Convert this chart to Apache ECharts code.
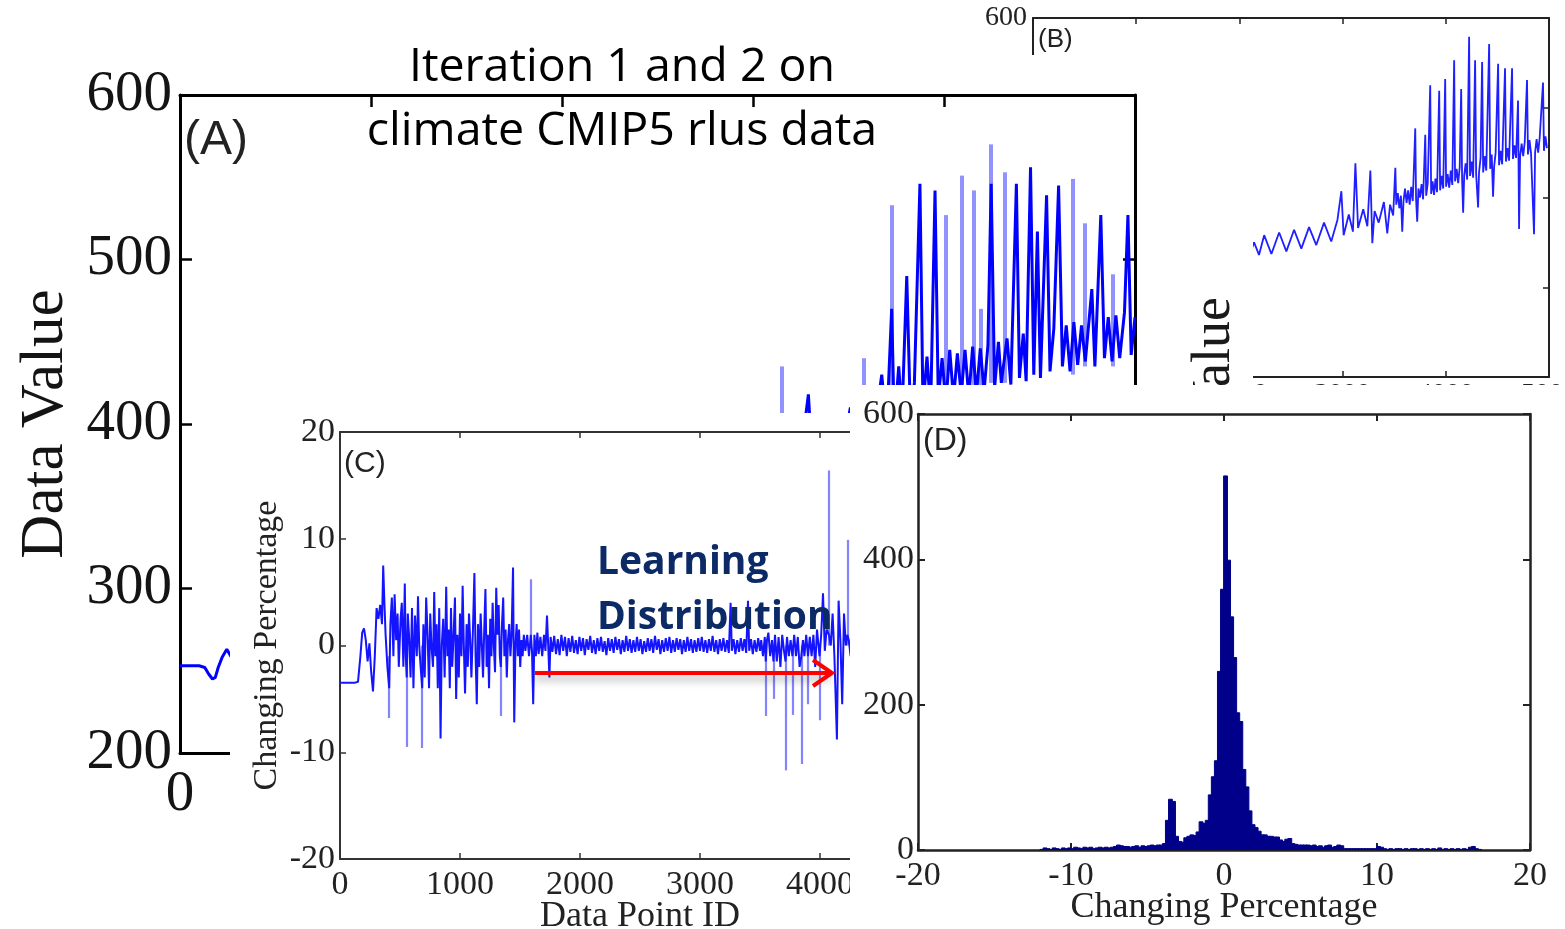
<!DOCTYPE html>
<html><head><meta charset="utf-8">
<script src="https://cdn.jsdelivr.net/npm/echarts@6/dist/echarts.min.js"></script>
<style>
html,body{margin:0;padding:0;width:1565px;height:929px;overflow:hidden;background:#fff;}
.p{position:absolute;overflow:hidden;}
</style></head><body>
<div id="pB" class="p" style="left:970px;top:0;width:595px;height:385px;z-index:1;background:#fff"></div>
<div id="pA" class="p" style="left:0;top:55px;width:1145px;height:874px;z-index:2;background:#fff"></div>
<div id="pC" class="p" style="left:230px;top:413px;width:720px;height:516px;z-index:3;background:#fff"></div>
<div id="pD" class="p" style="left:850px;top:385px;width:715px;height:544px;z-index:4;background:#fff"></div>
<div id="pT" class="p" style="left:0;top:0;width:1565px;height:929px;z-index:5;pointer-events:none"></div>
<script>
// ---------------- DATA ----------------
// Panel A: data value vs data point ID (dark line) [x, value]
const panelA_line = [
 [0,253],[50,253],[100,253],[130,252],[150,248],[170,245],[185,246],[200,252],[220,258],[245,263],[270,258],[300,266],[340,255],[380,270],[420,257],[460,272],[500,258],[560,275],[620,262],[680,280],[740,265],[800,283],[860,268],[920,288],[980,272],[1040,292],[1100,276],[1160,296],[1220,280],[1280,300],[1340,283],[1400,305],[1460,288],[1520,310],[1580,292],[1640,315],[1700,296],[1760,320],[1820,300],[1880,325],[1940,305],[1980,360],[2000,308],[2060,330],[2120,312],[2180,336],[2240,318],[2300,372],[2320,320],[2380,342],[2440,325],[2500,348],[2560,330],[2620,380],[2640,335],[2700,355],[2760,340],[2820,362],[2880,345],[2940,368],
 [3000,365],[3040,385],[3080,362],[3120,392],[3160,370],[3200,398],[3240,372],[3290,418],[3310,378],[3350,400],[3390,380],[3430,405],[3470,385],[3510,410],[3550,390],[3590,415],[3630,392],[3674,430],[3700,398],[3726,470],[3740,400],[3763,435],[3780,405],[3805,490],[3825,402],[3845,425],[3874,546],[3890,410],[3911,441],[3930,408],[3953,542],[3970,415],[3990,440],[4010,412],[4030,445],[4050,415],[4070,443],[4090,418],[4110,445],[4130,416],[4150,447],[4170,418],[4190,446],[4210,420],[4230,448],[4247,546],[4265,422],[4285,450],[4300,425],[4330,452],[4350,424],[4379,546],[4395,428],[4415,455],[4430,426],[4453,556],[4470,430],[4489,517],[4505,428],[4537,539],[4555,432],[4575,458],[4600,545],[4620,435],[4640,460],[4660,432],[4680,462],[4700,436],[4720,460],[4740,438],[4774,482],[4790,435],[4821,527],[4840,440],[4860,465],[4880,438],[4900,466],[4920,440],[4945,468],[4963,527],[4980,442],[5000,465]
];
// Panel A: lighter spikes [x, low, high]
const panelA_spikes = [
 [3153,370,435],[3579,400,440],[3726,420,533],[4011,420,527],[4095,420,551],[4158,420,542],[4195,420,470],[4247,425,570],[4316,425,553],[4674,430,549],[4737,435,522],[4884,435,491]
];
// Panel B: data value vs data point ID [x, value]
const panelB_line = [
 [0,270],[150,290],[300,275],[450,296],[600,282],[750,302],[900,288],[1050,310],[1200,295],[1350,318],[1500,302],[1650,326],[1800,310],[1950,334],[2050,320],
 [2142,350],[2190,336],[2240,358],[2310,337],[2385,361],[2455,340],[2530,364],[2600,343],[2675,367],[2745,347],[2820,372],[2890,351],[2950,375],[2988,407],[3010,358],[3060,381],[3100,362],[3124,438],[3150,366],[3200,387],[3240,368],[3269,430],[3288,349],[3310,385],[3350,372],[3400,395],[3433,360],[3460,392],[3490,380],
 [3511,433],[3520,392],[3535,405],[3550,388],[3565,402],[3578,362],[3590,396],[3605,410],[3620,394],[3635,408],[3650,392],[3665,412],[3680,396],[3704,477],[3712,398],[3723,373],[3735,410],[3750,400],[3765,415],[3780,398],[3801,470],[3810,402],[3825,416],[3849,525],[3858,404],[3872,418],[3886,403],[3900,421],[3915,406],[3936,519],[3945,408],[3960,424],[3975,410],[3994,532],[4003,412],[4018,426],[4033,411],[4048,430],[4063,414],[4081,553],[4090,418],[4105,432],[4120,416],[4135,434],[4149,521],[4158,420],[4168,383],[4178,424],[4192,438],[4207,420],[4226,579],[4235,424],[4250,440],[4265,422],[4284,553],[4294,426],[4313,389],[4322,428],[4337,444],[4352,551],[4362,428],[4377,446],[4392,430],[4420,571],[4430,432],[4445,448],[4458,401],[4468,434],[4483,450],[4507,549],[4516,436],[4531,452],[4546,437],[4574,544],[4583,440],[4598,455],[4613,441],[4642,544],[4651,443],[4666,458],[4681,444],[4700,508],[4710,365],[4720,446],[4735,460],[4750,446],[4765,462],[4787,531],[4796,448],[4811,464],[4826,449],[4855,359],[4865,450],[4880,465],[4895,450],[4910,467],[4942,528],[4951,452],[4966,468],[4980,455]
];
// Panel C: changing percentage vs data point ID [x, pct]
const panelC_line = [
 [0,-3.5],[60,-3.5],[120,-3.5],[150,-3.4],[170,-1],[185,1.2],[200,1.6],[215,0.5],[230,-1.5],[245,0.2],[260,-2.5],[275,-4.3],[290,-1],[305,3.5],[320,2.5],[335,3.8],[350,2],[360,7.5],[370,4],[380,1],[395,-2],[410,-4],[420,2],[432,4.5],[445,-1],[455,4.8],[468,0.5],[480,3],[490,-2],[505,2.5],[515,4],[528,-2],[540,5.8],[548,-1],[556,-3],[565,3],[575,1],[588,-3],[600,3.5],[612,-4],[625,2.8],[640,-1],[650,4.6],[660,0],[672,-2],[685,-4],[695,2],[706,-3],[718,4.5],[730,1],[742,-4],[752,3],[762,0],[775,-2],[785,5],[795,-1],[805,2],[815,-4],[827,3.5],[838,-8.7],[848,0],[860,2.5],[872,-3],[885,5.5],[895,-1],[905,1.5],[915,-4],[925,3.5],[935,-2],[945,0.5],[958,4.5],[968,-5],[978,1],[990,-3],[1000,3],[1012,-1],[1022,5.6],[1032,0],[1042,-4.5],[1055,2],[1065,-2],[1075,3],[1085,0.5],[1095,-3],[1108,1.5],[1120,6.8],[1130,-1],[1140,-5.5],[1150,2],[1160,-2],[1172,3],[1182,0],[1192,-3],[1202,1.5],[1212,5.3],[1222,-2],[1232,1],[1242,-4],[1252,2.5],[1262,-1],[1272,4],[1282,0],[1292,-2.5],[1302,5.4],[1312,1],[1322,3.8],[1332,-1],[1340,-2],[1350,2],[1360,4.5],[1370,-1],[1380,1.5],[1390,-3],[1400,0.5],[1410,2],[1420,-1],[1430,1],[1442,7.3],[1452,-7.2],[1462,0],[1472,2],[1482,-1],[1492,1.5],[1502,-2],[1512,0.5],[1522,-1],[1532,1],[1545,-0.5],[1560,1],[1575,-1],[1590,1],[1600,-0.5],[1610,-5.5],[1620,1],[1632,-1],[1645,1.2],[1655,-0.8],[1670,0.8],[1685,-1],[1700,1],[1712,-0.5],[1725,2.8],[1735,0],[1745,-3],[1755,0.8],
 [1770,-0.6],[1785,0.9],[1800,-0.8],[1815,0.6],[1830,-0.9],[1845,1],[1860,-0.5],[1875,0.8],[1890,-1],[1905,0.7],[1920,-0.6],[1935,0.9],[1950,-0.7],[1965,0.5],[1980,-0.8],[1995,0.8],[2010,-0.5],[2025,0.7],[2040,-0.9],[2055,0.6],[2070,-0.4],[2085,0.9],[2100,-0.7],[2115,0.5],[2130,-0.8],[2145,0.7],[2160,-0.5],[2175,0.8],[2190,-0.6],[2205,0.4],[2220,-0.9],[2235,0.7],[2250,-0.5],[2265,0.6],[2280,-0.7],[2295,0.8],[2310,-0.4],[2325,0.6],[2340,-0.8],[2355,0.5],[2370,-0.6],[2385,0.9],[2400,-0.5],[2415,0.6],[2430,-0.7],[2445,0.5],[2460,-0.6],[2475,0.8],[2490,-0.5],[2505,0.6],[2520,-0.8],[2535,0.4],[2550,-0.6],[2565,0.7],[2580,-0.5],[2595,0.6],[2610,-0.7],[2625,0.9],[2640,-0.4],[2655,0.6],[2670,-0.8],[2685,0.5],[2700,-0.6],[2715,0.7],[2730,-0.5],[2745,0.8],[2760,-0.7],[2775,0.5],[2790,-0.6],[2805,0.7],[2820,-0.4],[2835,0.6],[2850,-0.8],[2865,0.5],[2880,-0.6],[2895,0.8],[2910,-0.5],[2925,0.6],[2940,-0.7],[2955,0.5],[2970,-0.6],[2985,0.7],[3000,-0.5],[3015,0.8],[3030,-0.6],[3045,0.5],[3060,-0.7],[3075,0.6],[3090,-0.5],[3105,0.9],[3120,-0.6],[3135,0.5],[3150,-0.8],[3165,0.6],[3180,-0.5],[3195,0.7],[3210,-0.6],[3225,0.5],[3240,-0.7],[3255,4.0],[3265,-0.5],[3280,0.6],[3295,-0.8],[3310,0.5],[3325,-0.6],[3340,0.7],[3355,-0.5],[3370,0.6],[3385,-0.7],[3400,4.2],[3410,-0.5],[3425,0.6],[3440,-0.8],[3455,0.5],[3470,-0.6],[3485,0.7],[3500,-0.5],
 [3510,0.5],[3525,-1],[3540,0.8],[3548,-1.5],[3558,0.5],[3570,1.2],[3585,-1],[3600,0.5],[3612,-1.5],[3625,1],[3640,-1.5],[3655,0.8],[3670,-2],[3685,1],[3700,-0.5],[3713,-1.5],[3725,0.8],[3740,-1],[3755,0.5],[3770,-1],[3785,1],[3800,-1],[3815,0.8],[3830,-2],[3844,-1],[3858,0.5],[3870,-1],[3885,1],[3900,-1],[3915,0.8],[3930,-1],[3945,1],[3960,-2],[3975,1.5],[3996,-1],[4010,1],[4025,4.9],[4040,-0.5],[4055,1.5],[4075,1],[4090,0],[4105,3],[4120,-1],[4141,-8.8],[4155,4.2],[4170,0.5],[4185,-5.5],[4200,3],[4215,0],[4228,1],[4240,0.5],[4255,-1],[4270,1.5],[4290,-2],[4310,3],[4330,-1],[4360,2],[4400,-3],[4450,4],[4500,-2],[4550,3],[4600,-4],[4650,2],[4700,-1],[4750,5],[4800,-3],[4850,2],[4900,-2],[4950,3],[5000,0]
];
// Panel C: lighter spikes [x, from, to]
const panelC_spikes = [
 [410,-1,-6.8],[556,0,-9.5],[685,0,-9.6],[1340,0,-6.6],[1590,0,6.2],[3548,0,-6.6],[3612,0,-5],[3713,0,-11.7],[3770,0,-6.5],[3844,0,-11.1],[3900,0,-5.5],[3996,0,-7],[4075,0,16.4],[4228,0,9.9]
];
// Panel D: histogram of changing percentage
const histStart = -12;
const histBinWidth = 0.2;
const histCounts = [
 0,2,1,0,2,1,0,2,1,2, 1,3,2,1,3,2,3,1,2,3, 2,3,2,3,4,6,5,4,4,3, 4,5,3,5,4,5,6,5,6,6,
 8,40,69,66,18,11,10,16,18,20, 19,24,38,36,40,75,100,122,245,358,
 514,398,320,264,188,176,110,86,53,34, 30,25,20,20,18,18,17,17,13,11, 14,15,8,7,6,6,6,6,5,6, 4,5,3,5,6,3,4,6,5,1,
 1,1,1,1,1,1,1,1,1,1, 4,3,
 1,0,1,0,1,1,0,1,0,1,1,0,1,0,1,0,1,0,
 2,0,1,0,1,0,1,0,1,0, 3,4,1,0
];
// Axis tick ranges
const axisA = {xMin:0, xMax:5000, xStep:1000, yMin:200, yMax:600, yStep:100};
const axisB = {xMin:0, xMax:5000, xStep:1000, yMin:200, yMax:600, yStep:100};
const axisC = {xMin:0, xMax:5000, xStep:1000, yMin:-20, yMax:20, yStep:10};
const axisD = {xMin:-20, xMax:20, xStep:10, yMin:0, yMax:600, yStep:200};

// ---------------- STYLE HELPERS ----------------
const SERIF = "'Liberation Serif','DejaVu Serif',serif";
const SANS = "'Liberation Sans','DejaVu Sans',sans-serif";
const plain = v => String(v);
function frameAxes(ax, o){
  const line = {onZero:false, lineStyle:{color:o.c, width:o.w}};
  const tick = {show:true, inside:true, length:o.tl, lineStyle:{color:o.c, width:o.tw}};
  const xs = [
    {type:'value', min:ax.xMin, max:ax.xMax, interval:ax.xStep, position:'bottom', axisLine:line, axisTick:tick, splitLine:{show:false},
     axisLabel:{fontFamily:SERIF, fontSize:o.fs, color:o.lc, margin:o.xm, hideOverlap:false, formatter:plain}, name:o.xName||'', nameLocation:'middle', nameGap:o.xng||0, nameMoveOverlap:false,
     nameTextStyle:{fontFamily:SERIF, fontSize:o.nfs, color:o.lc}},
    {type:'value', min:ax.xMin, max:ax.xMax, interval:ax.xStep, position:'top', axisLine:line, axisTick:tick, splitLine:{show:false}, axisLabel:{show:false}}
  ];
  const ys = [
    {type:'value', min:ax.yMin, max:ax.yMax, interval:ax.yStep, position:'left', axisLine:line, axisTick:tick, splitLine:{show:false},
     axisLabel:{fontFamily:SERIF, fontSize:o.fs, color:o.lc, margin:o.ym, hideOverlap:false, formatter:plain}, name:o.yName||'', nameLocation:'middle', nameGap:o.yng||0, nameRotate:90, nameMoveOverlap:false,
     nameTextStyle:{fontFamily:SERIF, fontSize:o.ynfs||o.nfs, color:o.lc}},
    {type:'value', min:ax.yMin, max:ax.yMax, interval:ax.yStep, position:'right', axisLine:line, axisTick:tick, splitLine:{show:false}, axisLabel:{show:false}}
  ];
  return {xAxis:xs, yAxis:ys};
}
function spikeSeries(list, color, width){
  return {type:'lines', coordinateSystem:'cartesian2d', xAxisIndex:0, yAxisIndex:0, polyline:false, silent:true, z:2,
    lineStyle:{color:color, width:width, opacity:1},
    data:list.map(s=>({coords:[[s[0],s[1]],[s[0],s[2]]]}))};
}

// ---------------- PANEL B ----------------
const chB = echarts.init(document.getElementById('pB'));
chB.setOption(Object.assign({
  animation:false,
  grid:{left:63, top:18, width:516, height:359, outerBoundsMode:'none', containLabel:false},
  series:[
    {type:'line', data:panelB_line, showSymbol:false, symbol:'none', lineStyle:{color:'#1f1fff', width:1.8}, z:3, clip:true}
  ],
  graphic:[
    {type:'text', left:68, top:27, z:5, style:{text:'(B)', fontFamily:SANS, fontSize:26, fill:'#222'}},
    {type:'rect', shape:{x:65, y:53, width:218, height:340}, style:{fill:'#fff'}, z:50},
    {type:'text', x:245, y:297, rotation:Math.PI/2, z:51, style:{text:'Data Value', fontFamily:SERIF, fontSize:54, fill:'#1a1a1a', align:'right', verticalAlign:'middle'}}
  ]
}, frameAxes(axisB, {c:'#222', w:2, tl:6, tw:1.5, fs:28, lc:'#222', xm:4, ym:6, nfs:28})));

// ---------------- PANEL A ----------------
const chA = echarts.init(document.getElementById('pA'));
chA.setOption(Object.assign({
  animation:false,
  grid:{left:180, top:40, width:955, height:658, outerBoundsMode:'none', containLabel:false},
  series:[
    spikeSeries(panelA_spikes, 'rgba(110,110,255,0.75)', 4),
    {type:'line', data:panelA_line, showSymbol:false, symbol:'none', lineStyle:{color:'#0000ff', width:3}, z:3, clip:true}
  ],
  graphic:[
    {type:'text', left:184, top:62, z:5, style:{text:'(A)', fontFamily:SANS, fontSize:48, fill:'#222'}}
  ]
}, frameAxes(axisA, {c:'#000', w:3, tl:12, tw:2.5, fs:57, lc:'#141414', xm:14, ym:8, nfs:61, yName:'Data Value', yng:104})));

// ---------------- PANEL C ----------------
const chC = echarts.init(document.getElementById('pC'));
chC.setOption(Object.assign({
  animation:false,
  grid:{left:110, top:19, width:600, height:427, outerBoundsMode:'none', containLabel:false},
  series:[
    spikeSeries(panelC_spikes, 'rgba(110,110,255,0.85)', 2.2),
    {type:'line', data:panelC_line, showSymbol:false, symbol:'none', lineStyle:{color:'#1414ff', width:2}, z:3, clip:true}
  ],
  graphic:[
    {type:'text', left:114, top:36, z:5, style:{text:'(C)', fontFamily:SANS, fontSize:30, fill:'#222'}}
  ]
}, frameAxes(axisC, {c:'#333', w:2, tl:6, tw:1.5, fs:34, lc:'#222', xm:9, ym:5, nfs:36, xName:'Data Point ID', xng:40, yName:'Changing Percentage', yng:56, ynfs:34})));

// ---------------- PANEL D ----------------
const histData = histCounts.map((c,i)=>[histStart+i*histBinWidth, histStart+(i+1)*histBinWidth, c]);
const chD = echarts.init(document.getElementById('pD'));
chD.setOption(Object.assign({
  animation:false,
  grid:{left:68, top:29, width:612, height:436, outerBoundsMode:'none', containLabel:false},
  series:[
    {type:'custom', data:histData, z:3, clip:true,
     renderItem:function(params, api){
       const p0 = api.coord([api.value(0), api.value(2)]);
       const p1 = api.coord([api.value(1), 0]);
       return {type:'rect', shape:{x:p0[0]-0.4, y:p0[1]-0.6, width:p1[0]-p0[0]+0.8, height:p1[1]-p0[1]+0.6},
               style:{fill:'#00008a', stroke:'#00008a', lineWidth:1}};
     }}
  ],
  graphic:[
    {type:'text', left:73, top:40, z:5, style:{text:'(D)', fontFamily:SANS, fontSize:32, fill:'#222'}}
  ]
}, frameAxes(axisD, {c:'#222', w:2.5, tl:7, tw:2, fs:34, lc:'#222', xm:9, ym:4, nfs:36, xName:'Changing Percentage', xng:40})));

// ---------------- OVERLAY TEXT / ARROW ----------------
const chT = echarts.init(document.getElementById('pT'));
chT.setOption({
  animation:false,
  graphic:[
    {type:'text', x:622, y:68, style:{text:'Iteration 1 and 2 on', fontFamily:"'Open Sans',sans-serif", fontSize:46.5, fill:'#000', align:'center', verticalAlign:'middle'}},
    {type:'text', x:622, y:132, style:{text:'climate CMIP5 rlus data', fontFamily:"'Open Sans',sans-serif", fontSize:46.5, fill:'#000', align:'center', verticalAlign:'middle'}},
    {type:'text', x:597, y:563, style:{text:'Learning', fontFamily:"'Open Sans',sans-serif", fontWeight:'bold', fontSize:39, fill:'#0c2a66', align:'left', verticalAlign:'middle'}},
    {type:'text', x:597, y:618, style:{text:'Distribution', fontFamily:"'Open Sans',sans-serif", fontWeight:'bold', fontSize:39, fill:'#0c2a66', align:'left', verticalAlign:'middle'}},
    {type:'line', shape:{x1:535, y1:673, x2:830, y2:673}, style:{stroke:'#ff0000', lineWidth:4, shadowBlur:8, shadowColor:'rgba(0,0,0,0.35)', shadowOffsetY:5}},
    {type:'polyline', shape:{points:[[813,660],[832,673],[813,686]]}, style:{stroke:'#ff0000', lineWidth:4, fill:null}}
  ]
});
</script>
</body></html>
